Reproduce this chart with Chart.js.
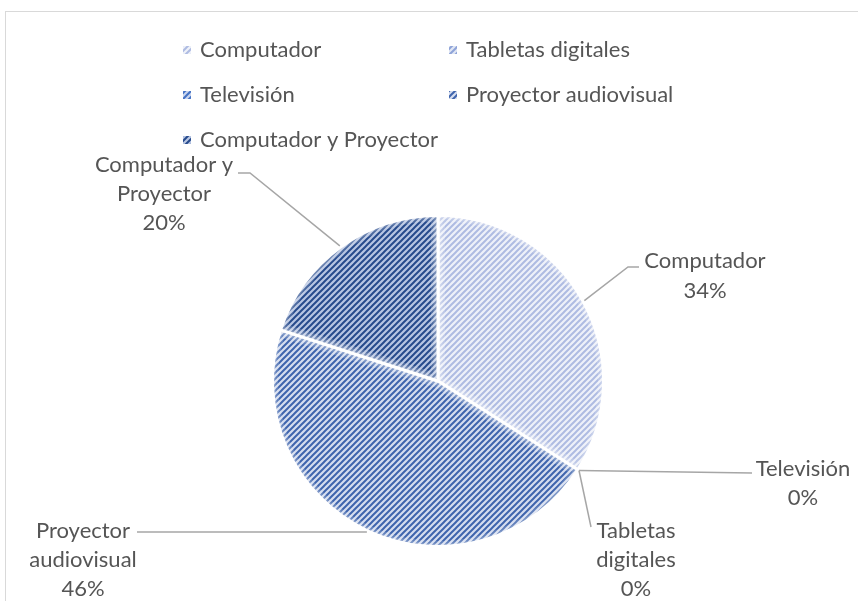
<!DOCTYPE html>
<html><head><meta charset="utf-8">
<script src="https://cdn.jsdelivr.net/npm/chart.js@4.4.1/dist/chart.umd.min.js"></script>
<style>html,body{margin:0;padding:0;background:#fff}canvas{display:block}</style>
</head><body>
<canvas id="c" width="858" height="601"></canvas>
<script>
// ---- data ----
const categories = ['Computador', 'Tabletas digitales', 'Televisión', 'Proyector audiovisual', 'Computador y Proyector'];
const percentages = [34, 0, 0, 46, 20];
const labelWords = [['Computador'], ['Tabletas', 'digitales'], ['Televisión'], ['Proyector', 'audiovisual'], ['Computador y', 'Proyector']];

// ---- styles ----
const patternFg = ['#aebbe2', '#8ea3d8', '#4472c4', '#3e64ad', '#264a8c'];
const patternBg = ['#eef1f9', '#e1e7f4', '#c9d5ee', '#d5ddef', '#b7c5e2'];
const FONT = '22px Lato';
const TEXT = '#555555';

const canvas = document.getElementById('c');
const ctx0 = canvas.getContext('2d');
function makePattern(fg, bg) {
  const s = 6;
  const c = document.createElement('canvas');
  c.width = s; c.height = s;
  const x = c.getContext('2d');
  x.fillStyle = bg; x.fillRect(0, 0, s, s);
  x.strokeStyle = fg; x.lineWidth = 2;
  x.beginPath();
  x.moveTo(0, s); x.lineTo(s, 0);
  x.moveTo(-s / 2, s / 2); x.lineTo(s / 2, -s / 2);
  x.moveTo(s / 2, s * 1.5); x.lineTo(s * 1.5, s / 2);
  x.stroke();
  return ctx0.createPattern(c, 'repeat');
}
const patterns = patternFg.map((fg, i) => makePattern(fg, patternBg[i]));

// label layout (text positions and leader elbows); leader starts at the slice's mid-angle on the rim
const labelLayout = [
  { x: 705, y: [268, 298], leader: [[628, 267], [639, 267]] },
  { x: 636, y: [538, 567, 596], leader: [[591, 527]] },
  { x: 803, y: [476, 505], leader: [[752, 473]] },
  { x: 83, y: [538, 567, 596], leader: [[137, 532]] },
  { x: 164, y: [172, 201, 230], leader: [[250, 173], [238, 173]] }
];

const decor = {
  id: 'decor',
  beforeDraw(chart) {
    const ctx = chart.ctx;
    ctx.save();
    ctx.fillStyle = '#fff';
    ctx.fillRect(0, 0, chart.width, chart.height);
    ctx.strokeStyle = '#d9d9d9';
    ctx.lineWidth = 1;
    ctx.strokeRect(5.5, 11.5, chart.width + 20, chart.height + 20);
    ctx.restore();
  },
  afterDatasetsDraw(chart) {
    const ctx = chart.ctx;
    const meta = chart.getDatasetMeta(0);
    // soft edges
    meta.data.forEach((arc) => {
      const p = arc.getProps(['x', 'y', 'startAngle', 'endAngle', 'outerRadius'], true);
      if (p.endAngle - p.startAngle <= 0.001) return;
      ctx.save();
      ctx.beginPath();
      ctx.moveTo(p.x, p.y);
      ctx.arc(p.x, p.y, p.outerRadius + 1.5, p.startAngle, p.endAngle);
      ctx.closePath();
      ctx.clip();
      [14, 9, 5].forEach(w => {
        ctx.strokeStyle = 'rgba(255,255,255,0.18)';
        ctx.lineWidth = w;
        ctx.stroke();
      });
      ctx.restore();
    });
    // leader lines and labels
    ctx.save();
    ctx.font = FONT;
    ctx.fillStyle = TEXT;
    ctx.textAlign = 'center';
    ctx.textBaseline = 'alphabetic';
    meta.data.forEach((arc, i) => {
      const p = arc.getProps(['x', 'y', 'startAngle', 'endAngle', 'outerRadius'], true);
      const mid = (p.startAngle + p.endAngle) / 2;
      const r = p.outerRadius + 1.5;
      const sx = p.x + Math.cos(mid) * r;
      const sy = p.y + Math.sin(mid) * r;
      const L = labelLayout[i];
      ctx.strokeStyle = '#a6a6a6';
      ctx.lineWidth = 1.5;
      ctx.beginPath();
      ctx.moveTo(sx, sy);
      L.leader.forEach(pt => ctx.lineTo(pt[0], pt[1]));
      ctx.stroke();
      const lines = labelWords[i].concat([percentages[i] + '%']);
      lines.forEach((t, k) => ctx.fillText(t, L.x, L.y[k]));
    });
    ctx.restore();
  },
  afterDraw(chart) {
    const ctx = chart.ctx;
    const cols = [183, 449];
    const rows = [50, 95, 140];
    ctx.save();
    ctx.font = FONT;
    ctx.fillStyle = TEXT;
    ctx.textAlign = 'left';
    ctx.textBaseline = 'middle';
    chart.data.labels.forEach((lab, i) => {
      const x = cols[i % 2], y = rows[Math.floor(i / 2)];
      ctx.fillStyle = patterns[i];
      ctx.fillRect(x, y - 4, 8, 8);
      ctx.fillStyle = TEXT;
      ctx.fillText(lab, x + 17, y);
    });
    ctx.restore();
  }
};

new Chart(canvas, {
  type: 'pie',
  data: {
    labels: categories,
    datasets: [{
      data: percentages,
      backgroundColor: patterns,
      borderColor: '#ffffff',
      borderWidth: 3
    }]
  },
  options: {
    responsive: false,
    devicePixelRatio: 1,
    animation: false,
    events: [],
    layout: { padding: { top: 214, bottom: 53, left: 271, right: 253 } },
    plugins: { legend: { display: false }, tooltip: { enabled: false } }
  },
  plugins: [decor]
});
</script>
</body></html>
